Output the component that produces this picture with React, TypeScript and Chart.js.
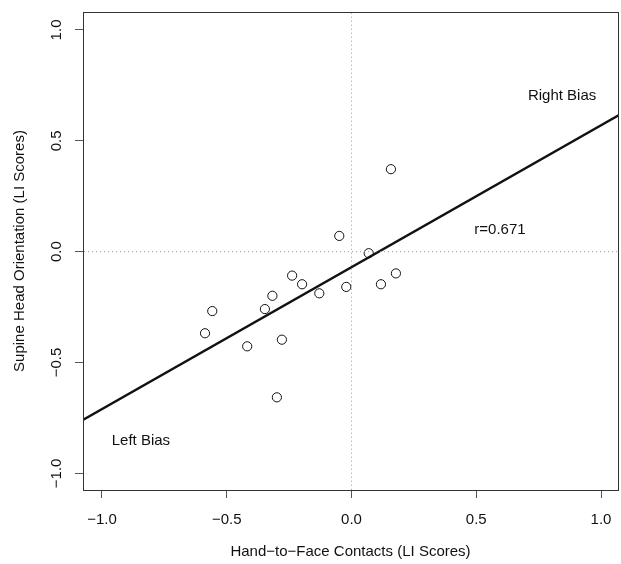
import React, { useEffect, useRef } from "react";
import { Chart, registerables } from "chart.js";

Chart.register(...registerables);

const handX = [-0.049, 0.069, -0.238, -0.198, 0.178, 0.118, -0.021, -0.129, -0.317, -0.558, -0.347, -0.587, -0.279, -0.418, -0.299, 0.158];
const headY = [0.071, -0.007, -0.108, -0.147, -0.098, -0.147, -0.159, -0.188, -0.199, -0.268, -0.259, -0.368, -0.397, -0.427, -0.657, 0.372];

const fitX = [-1.2, 1.2];
const fitY = [-0.838, 0.698];

const xTicks = [-1, -0.5, 0, 0.5, 1];
const xTickLabels = ["\u22121.0", "\u22120.5", "0.0", "0.5", "1.0"];
const yTicks = [-1, -0.5, 0, 0.5, 1];
const yTickLabels = ["\u22121.0", "\u22120.5", "0.0", "0.5", "1.0"];

const notes = [
  { text: "Right Bias", x: 0.844, y: 0.703 },
  { text: "r=0.671", x: 0.595, y: 0.098 },
  { text: "Left Bias", x: -0.844, y: -0.853 },
];

const FONT = "'Liberation Sans', Arial, Helvetica, sans-serif";

export default function App() {
  const ref = useRef<HTMLCanvasElement | null>(null);
  useEffect(() => {
    if (!ref.current) return;
    const boxPlugin = {
      id: "box",
      afterDraw(chart: any) {
        const { ctx, chartArea: a, scales } = chart;
        ctx.save();
        ctx.strokeStyle = "#333";
        ctx.lineWidth = 1;
        ctx.strokeRect(Math.round(a.left) + 0.5, Math.round(a.top) + 0.5, Math.round(a.right - a.left), Math.round(a.bottom - a.top));
        ctx.fillStyle = "#111";
        ctx.font = "15px " + FONT;
        ctx.textAlign = "center";
        ctx.textBaseline = "middle";
        for (const n of notes) {
          ctx.fillText(n.text, scales.x.getPixelForValue(n.x), scales.y.getPixelForValue(n.y));
        }
        const ys = scales.y;
        yTicks.forEach((v, i) => {
          const py = ys.getPixelForValue(v);
          ctx.save();
          ctx.translate(57, py);
          ctx.rotate(-Math.PI / 2);
          ctx.fillText(yTickLabels[i], 0, 0);
          ctx.restore();
        });
        ctx.restore();
      },
    };
    const chart = new Chart(ref.current, {
      type: "scatter",
      data: {
        datasets: [
          {
            type: "line",
            data: [{ x: -1.2, y: 0 }, { x: 1.2, y: 0 }],
            borderColor: "#999",
            borderWidth: 1,
            borderDash: [1, 3],
            pointRadius: 0,
            showLine: true,
          } as any,
          {
            type: "line",
            data: [{ x: 0, y: -1.2 }, { x: 0, y: 1.2 }],
            borderColor: "#999",
            borderWidth: 1,
            borderDash: [1, 3],
            pointRadius: 0,
            showLine: true,
          } as any,
          {
            type: "line",
            data: fitX.map((x, i) => ({ x, y: fitY[i] })),
            borderColor: "#111",
            borderWidth: 2.5,
            pointRadius: 0,
            showLine: true,
          } as any,
          {
            data: handX.map((x, i) => ({ x, y: headY[i] })),
            pointRadius: 4.6,
            pointBorderWidth: 1,
            pointBorderColor: "#111",
            pointBackgroundColor: "rgba(255,255,255,0)",
          } as any,
        ],
      },
      options: {
        animation: false,
        responsive: false,
        layout: { autoPadding: false, padding: { top: 12, right: 3, left: 0, bottom: 0 } },
        plugins: { legend: { display: false }, tooltip: { enabled: false } },
        scales: {
          x: {
            type: "linear",
            min: -1.076,
            max: 1.068,
            afterFit: (s: any) => { s.height = 74; s.paddingLeft = 0; s.paddingRight = 0; },
            afterBuildTicks: (s: any) => { s.ticks = xTicks.map((v) => ({ value: v })); },
            grid: { display: true, drawOnChartArea: false, drawTicks: true, tickLength: 8, color: "#555" },
            border: { display: true, color: "#333" },
            ticks: {
              padding: 13,
              color: "#111",
              font: { family: FONT, size: 15 },
              callback: (v: any) => xTickLabels[xTicks.indexOf(Number(v))] ?? "",
              maxRotation: 0,
              minRotation: 0,
            },
            title: {
              display: true,
              text: "Hand\u2212to\u2212Face Contacts (LI Scores)",
              color: "#111",
              font: { family: FONT, size: 15 },
              padding: { top: 0, bottom: 3 },
            },
          },
          y: {
            type: "linear",
            min: -1.075,
            max: 1.081,
            afterFit: (s: any) => { s.width = 83; s.paddingTop = 0; s.paddingBottom = 0; },
            afterBuildTicks: (s: any) => { s.ticks = yTicks.map((v) => ({ value: v })); },
            grid: { display: true, drawOnChartArea: false, drawTicks: true, tickLength: 8, color: "#555" },
            border: { display: true, color: "#333" },
            ticks: {
              padding: 12,
              color: "rgba(0,0,0,0)",
              font: { family: FONT, size: 15 },
              callback: () => "",
            },
            title: {
              display: true,
              text: "Supine Head Orientation (LI Scores)",
              color: "#111",
              font: { family: FONT, size: 15 },
              padding: { top: 11, bottom: 0 },
            },
          },
        },
      } as any,
      plugins: [boxPlugin],
    });
    return () => chart.destroy();
  }, []);
  return (
    <div style={{ position: "fixed", left: 0, top: 0, width: 621, height: 564, background: "#fff" }}>
      <canvas ref={ref} width={621} height={564} style={{ display: "block", width: 621, height: 564 }} />
    </div>
  );
}
